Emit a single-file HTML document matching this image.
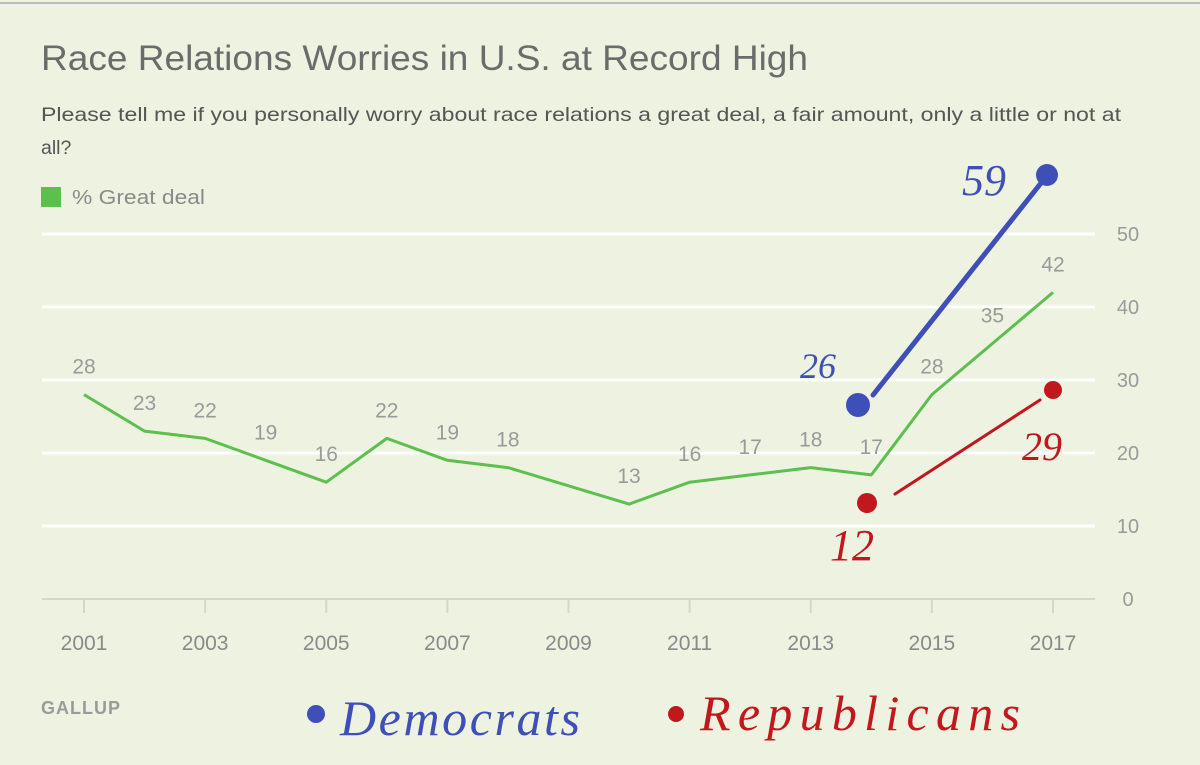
<!DOCTYPE html>
<html><head><meta charset="utf-8"><style>
body{margin:0;width:1200px;height:765px;background:#eef2e1;overflow:hidden;font-family:"Liberation Sans",sans-serif}
svg{position:absolute;left:0;top:0}
</style></head><body>
<svg width="1200" height="765">
<rect x="0" y="0" width="1200" height="765" fill="#eef2e1"/>
<line x1="0" y1="3" x2="1200" y2="3" stroke="#b8bcc4" stroke-width="2"/>
<text x="41" y="70" font-size="35" fill="#6b6b6b" textLength="767" lengthAdjust="spacingAndGlyphs">Race Relations Worries in U.S. at Record High</text>
<text x="41" y="121" font-size="19.5" fill="#555" textLength="1080" lengthAdjust="spacingAndGlyphs">Please tell me if you personally worry about race relations a great deal, a fair amount, only a little or not at</text>
<text x="41" y="154" font-size="19.5" fill="#555">all?</text>
<rect x="41" y="187" width="20" height="20" fill="#5cbf4e"/>
<text x="72" y="204" font-size="20" fill="#8a8a8a" textLength="133" lengthAdjust="spacingAndGlyphs">% Great deal</text>
<g id="grid"></g><g id="xaxis"></g><g id="series"></g>
<text x="41" y="714" font-size="18" font-weight="bold" fill="#9a9a9a" letter-spacing="1">GALLUP</text>
<g>
<line x1="873" y1="395" x2="1045" y2="178" stroke="#3f4fb8" stroke-width="5" stroke-linecap="round"/>
<circle cx="858" cy="405" r="12" fill="#3f4fb8"/>
<circle cx="1047" cy="175" r="11" fill="#3f4fb8"/>
<text x="800" y="378" font-size="36" font-style="italic" fill="#3f4fb8" font-family="Liberation Serif">26</text>
<text x="962" y="195" font-size="44" font-style="italic" fill="#3f4fb8" font-family="Liberation Serif">59</text>
<line x1="895" y1="494" x2="1040" y2="400" stroke="#c0181c" stroke-width="3" stroke-linecap="round"/>
<circle cx="867" cy="503" r="10" fill="#c0181c"/>
<circle cx="1053" cy="390" r="9" fill="#c0181c"/>
<text x="830" y="560" font-size="44" font-style="italic" fill="#c0181c" font-family="Liberation Serif">12</text>
<text x="1022" y="460" font-size="40" font-style="italic" fill="#c0181c" font-family="Liberation Serif">29</text>
<circle cx="316" cy="714" r="9" fill="#3f4fb8"/>
<text x="340" y="735" font-size="50" font-style="italic" fill="#3f4fb8" font-family="Liberation Serif" textLength="240">Democrats</text>
<circle cx="676" cy="714" r="8" fill="#c0181c"/>
<text x="700" y="730" font-size="50" font-style="italic" fill="#c0181c" font-family="Liberation Serif" textLength="320">Republicans</text>
</g>
</svg>
<script>
const years=[2001,2002,2003,2004,2005,2006,2007,2008,2010,2011,2012,2013,2014,2015,2016,2017];
const values=[28,23,22,19,16,22,19,18,13,16,17,18,17,28,35,42];
const yTicks=[0,10,20,30,40,50];
const xTicks=[2001,2003,2005,2007,2009,2011,2013,2015,2017];
const NS="http://www.w3.org/2000/svg";
const x=yr=>84+(yr-2001)*(1053-84)/16;
const y=v=>599-v*7.3;
function mk(tag,attrs,parent,txt){const e=document.createElementNS(NS,tag);for(const k in attrs)e.setAttribute(k,attrs[k]);if(txt!==undefined)e.textContent=txt;document.getElementById(parent).appendChild(e);return e;}
yTicks.forEach(t=>{
  const l=mk('line',{x1:42,x2:1095,y1:y(t),y2:y(t),stroke:t===0?'#d3d8cb':'#ffffff','stroke-width':t===0?2:3},'grid');
  
  
  const tx=mk('text',{x:1128,y:y(t)+7,'font-size':20,fill:'#9a9a9a','text-anchor':'middle'},'grid',t);
  
  
});
xTicks.forEach(t=>{
  const l=mk('line',{x1:x(t),x2:x(t),y1:599,y2:613,stroke:'#d3d8cb','stroke-width':2},'xaxis');
  
  
  const tx=mk('text',{x:x(t),y:650,'font-size':21,fill:'#8a8a8a','text-anchor':'middle'},'xaxis',t);
  
  
});
const pts=years.map((yr,i)=>x(yr)+','+y(values[i])).join(' ');
const pl=mk('polyline',{points:pts,fill:'none',stroke:'#5cbf4e','stroke-width':3,'stroke-linejoin':'round'},'series');


years.forEach((yr,i)=>{
  const tx=mk('text',{x:x(yr),y:y(values[i])-21,'font-size':21,fill:'#9a9a9a','text-anchor':'middle'},'series',values[i]);
  
  
});
</script>
</body></html>
